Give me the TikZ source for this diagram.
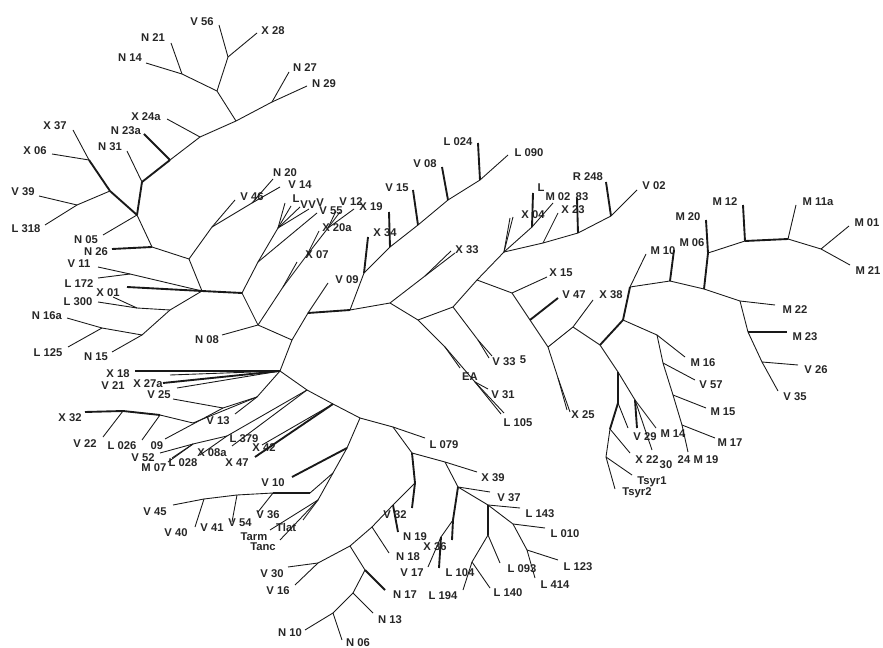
\documentclass[tikz,border=0pt]{standalone}
\usepackage{fontspec}
\setmainfont{Liberation Sans}
\usetikzlibrary{positioning}

\begin{document}
\begin{tikzpicture}[x=0.03cm, y=-0.03cm,
    br/.style={line width=0.75pt, black!90},
    tbr/.style={line width=1.6pt, black!90},
    lbl/.style={inner sep=0pt, text=black!85, font=\fontsize{9.6}{11}\selectfont\bfseries}]
    \useasboundingbox (0,0) rectangle (883,648);

    % Define inner junctions
    \foreach \n/\x/\y in {a1/228/57, a2/217/91, a3/182/74, a4/236/121, a5/272/102, a6/200/137,
        a7/170/160, a8/142/182, a9/137/215, b1/110/191, b2/89/160, b3/77/205,
        c1/152/247, c2/189/259, c3/202/291, d1/170/310, d2/130/274, d3/137/308, d4/142/335, d5/102/328,
        e1/242/293, e2/258/325, e3/292/340, e4/280/371, f1/258/262, f2/278/228,
        g1/283/287, g2/307/255, g3/328/228, h1/212/227, h2/252/203,
        i1/308/313, i2/350/310, i3/364/273, iA/390/247, iB/418/225, iC/448/200, iD/480/180, i4/390/303,
        k1/425/276, j1/418/320, l1/445/347, l2/475/382, j2/453/307, j2a/478/340, j3/477/280, j4/504/252,
        n1/532/227, n2/543/243, n3/578/233, n4/611/216, m1/512/293, m2/530/320,
        o1/548/347, o1a/558/378, o2/573/327, o3/600/345, o4/623/320, o5/618/372,
        p1/630/287, p2/670/281, p3/704/289, p4/708/253, p5/745/241, p6/788/239, p7/821/249,
        p8/740/301, p9/748/332, p10/762/362, q1/657/335, q2/663/363, q3/673/395, q4/682/425,
        r1/635/400, s0/618/403, s1/610/429, s2/606/457,
        u0/257/397, u1/223/408, u2/193/423, u3/123/411, u4/160/415,
        w1/307/390, w2/333/404, w3/360/418, w4/393/427, x2/193/444, x3/227/436,
        y1/412/453, y2/415/483, z0/393/505, z6/372/527, z1/350/546, z2/365/570, z3/318/563, z4/353/593, z5/333/613,
        al1/347/448, al2/333/473, al3/310/493, be1/318/500, de1/273/493, de2/237/495, de3/204/499,
        et1/445/462, et2/458/487, et3/453/520, et4/441/537,
        th1/488/505, th2/488/535, th3/513/524, th4/472/562, th5/527/550}
        \coordinate (\n) at (\x,\y);

    % Define leaves and their labels
    \foreach \n/\tx/\ty/\lx/\ly/\t in {V56/219/25/202/22/V 56, X28/257/33/273/31/X 28,
        N21/171/43/153/38/N 21, N14/146/63/130/58/N 14, N27/289/72/305/68/N 27, N29/307/86/324/84/N 29,
        X24a/167/119/146/117/X 24a, N23a/144/134/126/131/N 23a, N31/127/151/110/147/N 31,
        X37/73/130/55/126/X 37, X06/52/154/35/151/X 06, V39/39/196/23/192/V 39, L318/45/225/26/229/L 318,
        N05/103/235/86/240/N 05, N26/112/249/96/252/N 26, V11/98/267/79/264/V 11, L172/98/278/79/284/L 172,
        X01/127/287/108/293/X 01, L300/98/302/78/302/L 300, N16a/67/318/47/316/N 16a,
        L125/68/347/48/353/L 125, N15/112/352/96/357/N 15, N08/222/335/207/340/N 08,
        V46/235/200/252/197/V 46, N20/273/179/285/173/N 20, V14/280/187/300/185/V 14,
        fL/285/203/296/199/L, fVa/291/206/304/205/V, fVb/300/207/312/205/V, fVc/309/209/320/203/V,
        V55/317/213/331/211/V 55, V12/354/209/351/202/V 12, X19/389/212/371/207/X 19,
        X34/368/237/385/233/X 34, X20a/319/231/337/228/X 20a, X07/297/262/317/255/X 07,
        V09/328/283/347/280/V 09, V15/413/190/397/188/V 15, V08/442/167/425/164/V 08,
        L024/478/143/458/142/L 024, L090/508/155/529/153/L 090, X33/451/251/467/250/X 33,
        X04/510/218/533/215/X 04, L201/533/193/541/188/L, M02/553/203/558/197/M 02,
        n83/577/198/582/197/83, X23/558/213/573/210/X 23, R248/606/182/588/177/R 248,
        V02/637/190/654/186/V 02, X15/547/277/561/273/X 15, V47/558/298/574/295/V 47,
        X38/593/300/611/295/X 38, V33/489/358/504/362/V 33, EA/460/368/470/377/EA,
        V31/488/389/503/395/V 31, L105/501/414/518/423/L 105, X25/567/410/583/415/X 25,
        M10/646/254/663/251/M 10, M06/674/250/692/243/M 06, M20/706/220/688/217/M 20,
        M12/743/205/725/202/M 12, M11a/796/205/818/202/M 11a, M01/849/226/867/223/M 01,
        M21/850/265/868/271/M 21, M22/775/305/795/310/M 22, M23/787/332/805/337/M 23,
        V26/798/365/816/370/V 26, V35/778/391/795/397/V 35, M16/685/357/703/363/M 16,
        V57/695/380/711/385/V 57, M15/706/408/723/412/M 15, M17/715/438/730/443/M 17,
        M19/688/452/706/460/M 19, M14/656/428/673/434/M 14, V29/637/428/645/437/V 29,
        X22/630/453/647/460/X 22, n30/652/450/666/465/30, Tsyr1/632/475/652/482/Tsyr1,
        Tsyr2/615/489/637/493/Tsyr2, X18/135/371/118/374/X 18, V21/170/375/113/386/V 21,
        X27a/163/383/148/384/X 27a, V25/173/399/159/395/V 25, V13/235/414/218/421/V 13,
        X32/85/412/70/418/X 32, V22/103/437/85/444/V 22, L026/142/440/122/446/L 026,
        n09/165/439/157/446/09, V52/160/453/143/458/V 52, M07/168/462/154/468/M 07,
        L028/172/458/183/463/L 028, X08a/200/455/212/453/X 08a, L379/232/446/244/439/L 379,
        X47/255/457/237/463/X 47, X42/262/445/264/448/X 42, V10/292/477/273/483/V 10,
        V45/173/505/155/512/V 45, V40/195/527/176/533/V 40, V54/232/522/240/523/V 54,
        V36/258/512/268/515/V 36, Tlat/303/520/286/527/Tlat, Tarm/270/530/254/537/Tarm,
        Tanc/280/540/263/547/Tanc, V30/288/567/272/574/V 30, V16/295/585/278/591/V 16,
        N10/305/630/290/633/N 10, N06/342/640/358/643/N 06, N13/373/613/390/620/N 13,
        N17/385/590/405/595/N 17, N18/389/553/408/557/N 18, N19/398/532/415/537/N 19,
        V32/412/508/395/515/V 32, X36/452/540/435/547/X 36, V17/428/567/412/573/V 17,
        L194/463/590/443/596/L 194, L140/490/588/508/593/L 140, L093/500/563/522/569/L 093,
        L414/535/578/555/585/L 414, L123/558/560/578/567/L 123, L010/545/528/565/534/L 010,
        L143/520/508/540/514/L 143, V37/490/492/509/498/V 37, X39/477/472/493/478/X 39,
        L079/425/438/444/445/L 079}
    {
        \coordinate (t\n) at (\tx,\ty);
        \node[lbl] (l\n) at (\lx,\ly) {\t};
    }

    % Tips whose labels are hidden
    \foreach \n/\x/\y in {L300b/113/297, gt1/336/211, gt2/340/212, X33b/455/253, X04b/513/217,
        V33b/492/356, L105b/504/413, X25b/570/412, s0t/628/428, e4x/177/388, et4b/439/568}
        \coordinate (t\n) at (\x,\y);

    % Labels standing alone
    \node[lbl] (lV41) at (212,528) {V 41};
    \node[lbl] (lL104) at (460,573) {L 104};
    \node[lbl] (l24) at (684,460) {24};
    \node[lbl] (l5) at (523,360) {5};

    % Thin branches
    \foreach \a/\b in {a1/tV56, a1/tX28, a2/a1, a2/a3, a3/tN21, a3/tN14, a2/a4, a4/a5, a5/tN27, a5/tN29,
        a4/a6, a6/tX24a, a6/a7, a8/tN31, b2/tX37, b2/tX06, b1/b3, b3/tV39, b3/tL318, a9/tN05, a9/c1,
        c1/c2, c2/h1, h1/tV46, h1/h2, h2/tN20, h2/tV14, c2/c3, c3/d2, d2/tV11, d2/tL172, c3/d1, d1/d3,
        d3/tL300, d3/tL300b, d1/d4, d4/tN15, d4/d5, d5/tN16a, d5/tL125,
        e1/f1, f1/f2, f2/tfL, f2/tfVa, f2/tfVb, f2/tfVc, f1/tV55, e1/e2, e2/tN08, e2/g1, g1/tX07, g1/g2,
        g2/tX20a, g2/g3, g3/tgt1, g3/tgt2, g3/tV12, e2/e3, e3/i1, i1/tV09, i2/i3, i3/iA, iA/iB, iB/iC,
        iC/iD, iD/tL090, i2/i4, i4/k1, k1/tX33, k1/tX33b, i4/j1, j1/l1, l1/tEA, l1/l2, l2/tV31, l2/tL105,
        l2/tL105b, j1/j2, j2/j2a, j2a/tV33, j2a/tV33b, j2/j3, j3/j4, j4/tX04, j4/tX04b, j4/n1, n1/tM02,
        j4/n2, n2/tX23, n2/n3, n3/n4, n4/tV02, j3/m1, m1/tX15, m1/m2, m2/o1, o1/o1a, o1a/tX25, o1a/tX25b,
        o1/o2, o2/tX38, o2/o3, p1/tM10, p1/p2, p2/p3, p4/p5, p6/tM11a, p6/p7, p7/tM01, p7/tM21,
        p3/p8, p8/tM22, p8/p9, p9/p10, p10/tV26, p10/tV35, o4/q1, q1/tM16, q1/q2, q2/tV57, q2/q3,
        q3/tM15, q3/q4, q4/tM17, q4/tM19, o3/o5, o5/r1, r1/tM14, r1/tn30, s0/ts0t, s1/tX22, s1/s2,
        s2/tTsyr1, s2/tTsyr2,
        e3/e4, e4/tV21, e4/te4x, e4/u0, u0/tV13, u0/u1, u1/tV25, u1/tn09, u0/u2, u2/u4, u3/tV22,
        u4/tL026, e4/w1, w1/tL379, w1/x3, x3/tX08a, x3/x2, x2/tV52, x2/tM07, x2/tL028, w1/w2, w2/tX42,
        w2/w3, w3/al1, al1/al2, al2/al3, de1/tV36, de1/de2, de2/tV54, de2/de3, de3/tV40, de3/tV45,
        al2/be1, be1/tTlat, be1/tTarm, be1/tTanc, w3/w4, w4/tL079, w4/y1, y2/z0, z0/z6, z6/tN18,
        z6/z1, z1/z3, z3/tV30, z3/tV16, z1/z2, z2/z4, z4/tN13, z4/z5, z5/tN10, z5/tN06,
        y1/et1, et1/tX39, et1/et2, et2/tV37, et3/et4, et4/tV17, et2/th1, th1/tL143, th2/tL093,
        th2/th4, th4/tL194, th4/tL140, th1/th3, th3/tL010, th3/th5, th5/tL123, th5/tL414}
        \draw[br] (\a) -- (\b);

    % Thick branches
    \foreach \a/\b in {a7/tN23a, a7/a8, a8/a9, a9/b1, b1/b2, c1/tN26, c3/tX01, c3/e1, i1/i2,
        i3/tX34, iA/tX19, iB/tV15, iC/tV08, iD/tL024, n1/tL201, n3/tn83, n4/tR248, m2/tV47,
        o3/o4, o4/p1, p2/tM06, p3/p4, p4/tM20, p5/tM12, p5/p6, p9/tM23, r1/tV29, o5/s0, s0/s1,
        e4/tX18, e4/tX27a, u4/u3, u3/tX32, w2/tX47, al1/tV10, al3/de1, y1/y2, y2/tV32, z0/tN19,
        z2/tN17, et2/et3, et3/tX36, et4/tet4b, th1/th2}
        \draw[tbr] (\a) -- (\b);

\end{tikzpicture}
\end{document}
